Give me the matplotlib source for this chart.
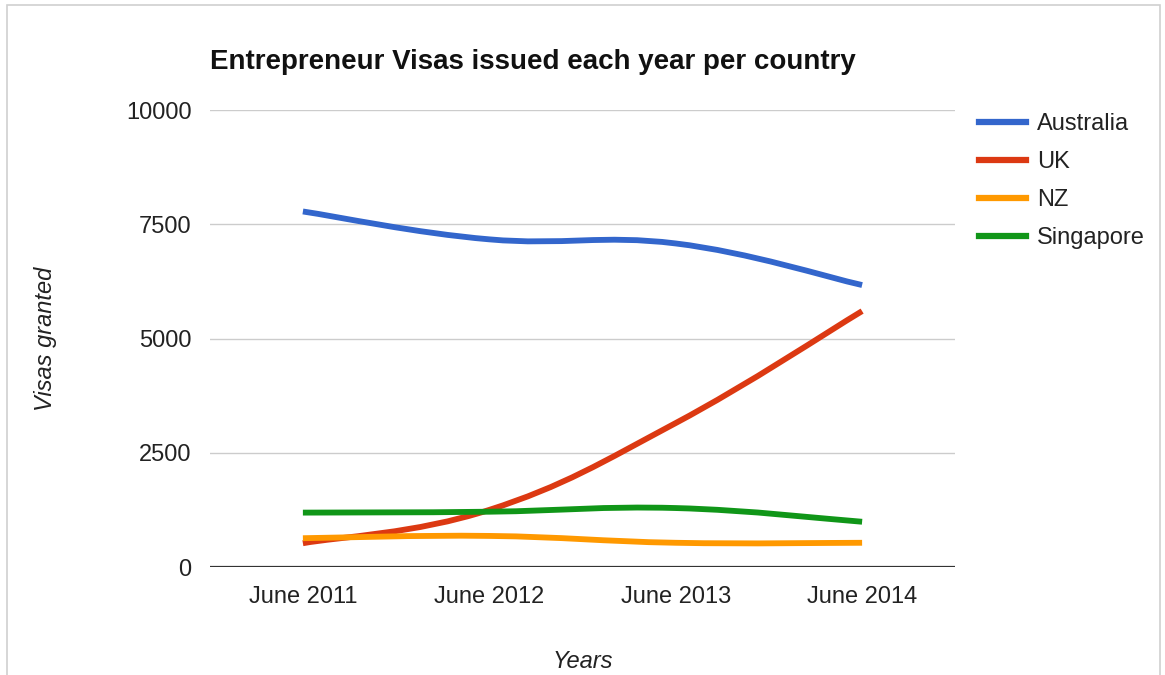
import matplotlib.pyplot as plt
from matplotlib.path import Path
from matplotlib.patches import PathPatch, Rectangle
from matplotlib.lines import Line2D

plt.rcParams['font.family'] = ['Liberation Sans', 'DejaVu Sans']

years = ['June 2011', 'June 2012', 'June 2013', 'June 2014']
australia = [7780, 7170, 7080, 6170]
uk = [520, 1250, 3150, 5600]
nz = [630, 680, 530, 530]
singapore = [1190, 1210, 1290, 990]

series_names = ['Australia', 'UK', 'NZ', 'Singapore']
colors = ['#3366cc', '#dc3912', '#ff9900', '#109618']


def smooth_path(xs, ys, k=0.2):
    # bezier through the points, like google's curveType 'function'
    n = len(xs)
    verts = [(xs[0], ys[0])]
    codes = [Path.MOVETO]
    for i in range(n - 1):
        x0, y0 = xs[max(i - 1, 0)], ys[max(i - 1, 0)]
        x1, y1 = xs[i], ys[i]
        x2, y2 = xs[i + 1], ys[i + 1]
        x3, y3 = xs[min(i + 2, n - 1)], ys[min(i + 2, n - 1)]
        c1 = (x1 + (x2 - x0) * k, y1 + (y2 - y0) * k)
        c2 = (x2 - (x3 - x1) * k, y2 - (y3 - y1) * k)
        verts += [c1, c2, (x2, y2)]
        codes += [Path.CURVE4] * 3
    return Path(verts, codes)


fig = plt.figure(figsize=(11.65, 6.75), dpi=100)
ax = fig.add_axes([0.180, 0.160, 0.640, 0.677])

x = list(range(len(years)))
for name, vals, c in zip(series_names, [australia, uk, nz, singapore], colors):
    p = PathPatch(smooth_path(x, vals), facecolor='none', edgecolor=c,
                  lw=4.2, capstyle='butt', joinstyle='round')
    ax.add_patch(p)

ax.set_xlim(-0.5, 3.5)
ax.set_ylim(0, 10000)
ax.set_yticks([0, 2500, 5000, 7500, 10000])
ax.set_xticks(x)
ax.set_xticklabels(years)
ax.tick_params(length=0, labelsize=17, colors='#222222', pad=14)
ax.tick_params(axis='y', pad=13)
for s in ax.spines.values():
    s.set_visible(False)
ax.grid(axis='y', color='#cccccc', lw=1)
ax.set_axisbelow(True)
ax.axhline(0, color='#333333', lw=1.6)

ax.set_xlabel('Years', fontsize=17, style='italic', color='#222222', labelpad=30)
ax.set_ylabel('Visas granted', fontsize=17, style='italic', color='#222222', labelpad=50)

fig.text(0.180, 0.908, 'Entrepreneur Visas issued each year per country',
         fontsize=20, fontweight='bold', color='#111111', va='center')

handles = [Line2D([], [], color=c, lw=4.5) for c in colors]
ax.legend(handles, series_names, loc='upper left', bbox_to_anchor=(1.003, 1.04),
          frameon=False, fontsize=17, handlelength=2.0, handletextpad=0.45,
          labelspacing=0.68, labelcolor='#222222')

fig.patches.append(Rectangle((7 / 1165, -0.01), 1153 / 1165, 1 - 5 / 675 + 0.01,
                             transform=fig.transFigure, fill=False,
                             edgecolor='#d0d0d0', lw=1.2))

fig.savefig('out.png', dpi=100, facecolor='white')
